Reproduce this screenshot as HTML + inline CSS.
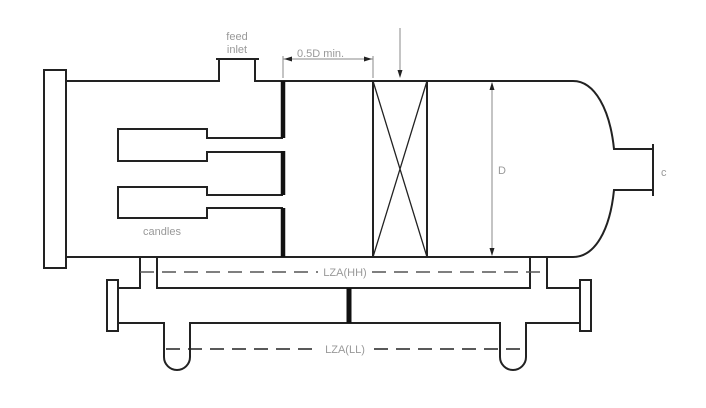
<!DOCTYPE html>
<html><head><meta charset="utf-8"><style>html,body{margin:0;padding:0;background:#fff}svg{display:block}</style></head>
<body>
<svg width="706" height="408" viewBox="0 0 706 408" xmlns="http://www.w3.org/2000/svg">
<g fill="none" stroke="#222" stroke-width="2">
<rect x="44" y="70" width="22" height="198" fill="#fff"/>
<path d="M66 81 H219 V59 M216 59 H259 M255 59 V81 H573 C595 81 610 110 614 149 H653 M653 144 V196 M653 190 H614 C610 230 595 257 573 257 H66"/>
<path d="M283 138 H207 V129 H118 V161 H207 V152 H283"/>
<path d="M283 195 H207 V187 H118 V218 H207 V208 H283"/>
<path d="M373 81 V257 M427 81 V257"/>
<path d="M373 81 L427 257 M427 81 L373 257" stroke-width="1.3"/>
<path d="M140 257 V288 H119 M157 257 V288 H530 V257 M547 257 V288 H580"/>
<rect x="107" y="280" width="11" height="51" fill="#fff"/>
<rect x="580" y="280" width="11" height="51" fill="#fff"/>
<path d="M119 323 H164 V357 A13 13 0 0 0 190 357 V323 H500 V357 A13 13 0 0 0 526 357 V323 H580"/>
</g>
<g stroke="#111" stroke-width="4.5">
<path d="M283 81 V138 M283 151 V195 M283 208 V257"/>
<path d="M349 288 V323" stroke-width="5"/>
</g>
<g stroke="#555" stroke-width="1.5" stroke-dasharray="14 8" fill="none">
<path d="M140 272 H318 M372 272 H547"/>
<path d="M166 349 H318 M374 349 H525" stroke="#222"/>
</g>
<g stroke="#888" stroke-width="1" fill="none">
<path d="M283 56 V78 M373 56 V78 M283 59 H373 M400 28 V76 M492 83 V255"/>
</g>
<g fill="#222">
<path d="M284 59 l8 -2.5 v5z M372 59 l-8 -2.5 v5z M400 78 l-2.5 -8 h5z M492 82 l-2.5 8 h5z M492 256 l-2.5 -8 h5z"/>
</g>
<g font-family="Liberation Sans, sans-serif" fill="#999" font-size="11">
<text x="237" y="40" text-anchor="middle">feed</text>
<text x="237" y="53" text-anchor="middle">inlet</text>
<text x="297" y="57">0.5D  min.</text>
<text x="162" y="235" text-anchor="middle">candles</text>
<text x="498" y="174">D</text>
<text x="661" y="176">c</text>
<text x="345" y="276" text-anchor="middle">LZA(HH)</text>
<text x="345" y="353" text-anchor="middle">LZA(LL)</text>
</g>
</svg>
</body></html>
